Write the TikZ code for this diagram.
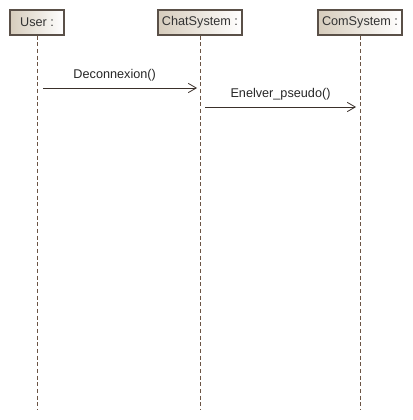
\documentclass[tikz,border=0pt]{standalone}
\usepackage{fontspec}
\setmainfont{Liberation Sans}
\definecolor{boxline}{HTML}{5A5048}
\definecolor{boxfill}{HTML}{D6CCBC}
\definecolor{lifeline}{HTML}{6B5444}
\definecolor{msgline}{HTML}{3A302A}
\tikzset{
  obj/.style={draw=boxline, line width=0.8pt, left color=boxfill, right color=white,
    minimum height=25*0.75pt, inner xsep=3pt, font=\fontsize{9.5}{11}\selectfont, text=black!80},
  life/.style={lifeline, dashed, dash pattern=on 3pt off 2pt, line width=0.7pt},
  msg/.style={msgline, line width=0.6pt, -{Straight Barb[length=6pt,width=7pt]}},
  lbl/.style={font=\fontsize{9.5}{11}\selectfont, text=black!85}
}
\usetikzlibrary{arrows.meta}
\begin{document}
\begin{tikzpicture}[x=0.75pt, y=-0.75pt]
  \useasboundingbox (0,0) rectangle (412,420);
  \draw
    (37,22.5) node[obj, minimum width=54*0.75pt] (user){User :}
    (200,22.5) node[obj, minimum width=81*0.75pt] (chat){ChatSystem :}
    (360,22.5) node[obj, minimum width=82*0.75pt] (com){ComSystem :};
  \coordinate (userend) at (37,410);
  \coordinate (chatend) at (200,410);
  \coordinate (comend) at (360,410);
  \begin{scope}[life]
    \draw (user) to (userend);
    \draw (chat) to (chatend);
    \draw (com) to (comend);
  \end{scope}
  \coordinate (m1a) at (43,88);
  \coordinate (m1b) at (197,88);
  \coordinate (m2a) at (205,107);
  \coordinate (m2b) at (356,107);
  \draw[msg] (m1a) to node[lbl, above=1.5pt, xshift=-4pt] (m1){Deconnexion()} (m1b);
  \draw[msg] (m2a) to node[lbl, above=1.5pt] (m2){Enelver\_pseudo()} (m2b);
\end{tikzpicture}
\end{document}
